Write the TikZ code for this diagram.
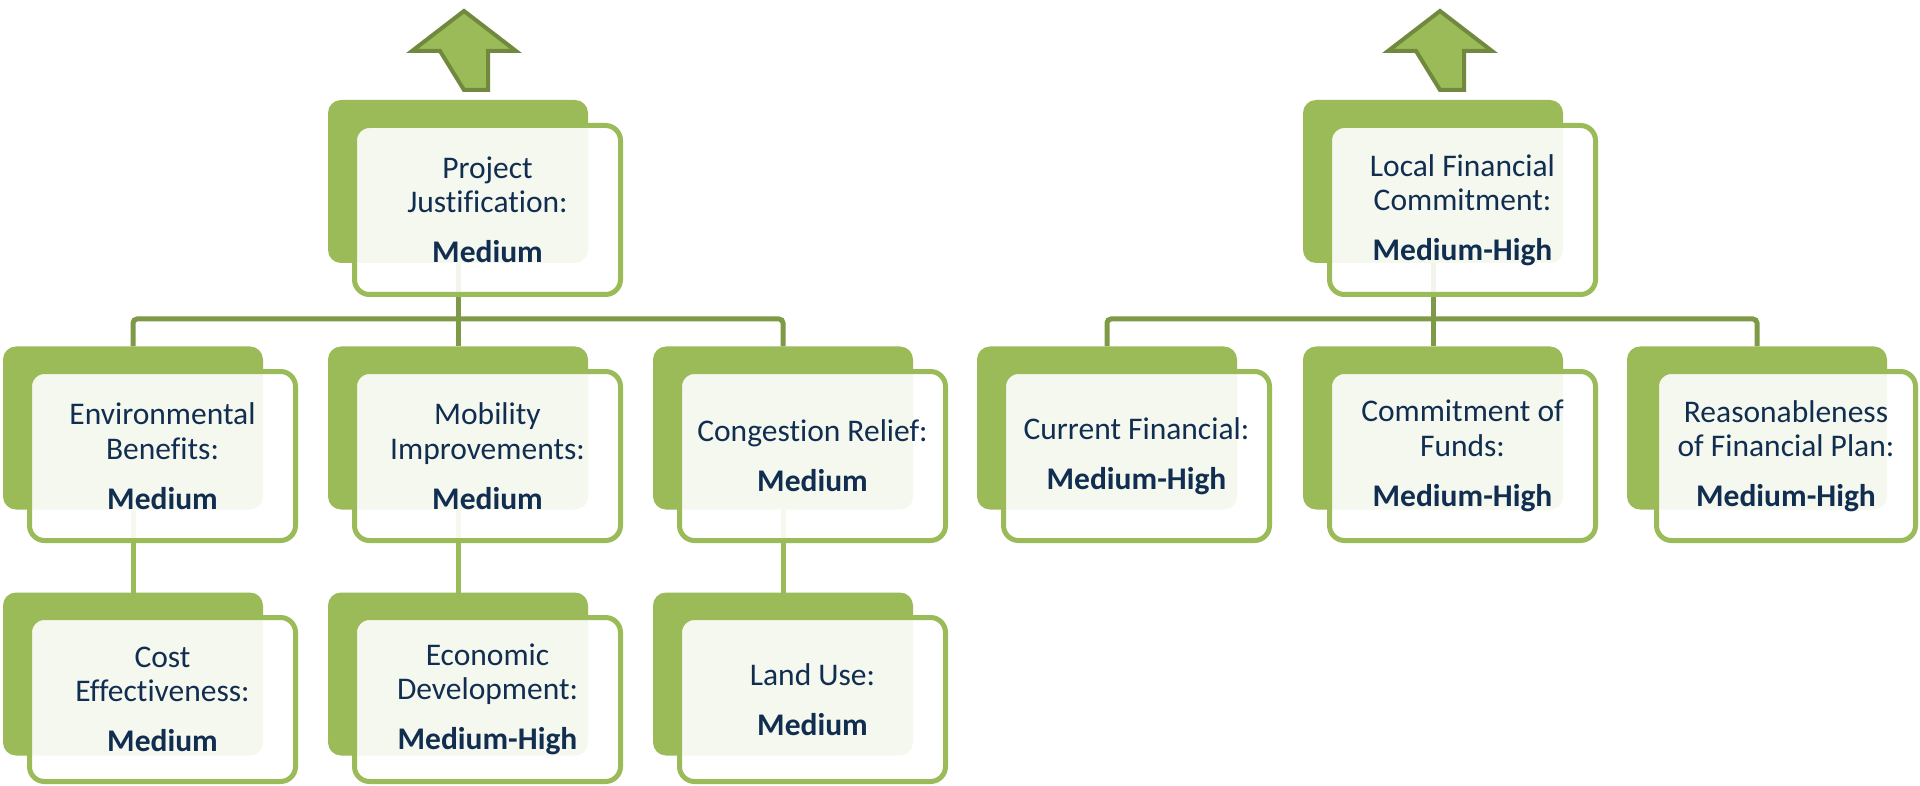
\documentclass[tikz,border=0pt]{standalone}
\usepackage{fontspec}
\setmainfont{Carlito}[Ligatures=NoCommon]
\usetikzlibrary{backgrounds}
\definecolor{boxgreen}{HTML}{9BBB59}
\definecolor{conngreen}{HTML}{7E9A47}
\definecolor{arrowgreen}{HTML}{71893F}
\definecolor{navy}{HTML}{112E51}
\newcommand\lblfont{\fontsize{31.5}{34.5}\selectfont}
\tikzset{
  backbox/.style={rectangle, rounded corners=13pt, fill=boxgreen, minimum width=260pt, minimum height=163pt, inner sep=0pt, outer sep=0pt},
  frontbox/.style={rectangle, rounded corners=15pt, draw=boxgreen, line width=5pt, fill=white, fill opacity=0.9, text opacity=1, minimum width=266pt, minimum height=169pt, inner sep=0pt, align=center, text=navy, font=\lblfont},
  lowfront/.style={frontbox, minimum height=164pt},
  hconn/.style={draw=conngreen, line width=5pt, rounded corners=4pt},
  vconn/.style={draw=boxgreen, line width=5pt},
  uparrow/.style={fill=boxgreen, draw=arrowgreen, line width=4pt, line join=miter},
}
\begin{document}
\begin{tikzpicture}[x=1pt,y=1pt]
\useasboundingbox (0,0) rectangle (1920,-786);

% back boxes
\node[backbox] (pjb) at (458,-181.5) {};
\node[backbox] (envb) at (133,-428) {};
\node[backbox] (mobb) at (458,-428) {};
\node[backbox] (conb) at (783,-428) {};
\node[backbox] (costb) at (133,-674) {};
\node[backbox] (ecob) at (458,-674) {};
\node[backbox] (landb) at (783,-674) {};
\node[backbox] (lfcb) at (1433,-181.5) {};
\node[backbox] (curb) at (1107,-428) {};
\node[backbox] (comb) at (1433,-428) {};
\node[backbox] (reab) at (1757,-428) {};

% junction coordinates
\coordinate (jL) at (458,-319);
\coordinate (jR) at (1433,-319);
\coordinate (aL) at (464,-90);
\coordinate (aR) at (1440,-90);

% connectors (behind boxes)
\begin{pgfonlayer}{background}
\fill[white] (0,0) rectangle (1920,-786);
\draw[hconn] (envb.north) |- (jL) -| (conb.north);
\draw[hconn] (pjb.south) -- (mobb.north);
\draw[hconn] (curb.north) |- (jR) -| (reab.north);
\draw[hconn] (lfcb.south) -- (comb.north);
\draw[vconn] (envb.south) -- (costb.north);
\draw[vconn] (mobb.south) -- (ecob.north);
\draw[vconn] (conb.south) -- (landb.north);
\end{pgfonlayer}

% front boxes with labels
\node[frontbox] (pjf) at (487.5,-210) {Project\\Justification:\\[15.5pt]\textbf{Medium}};
\node[frontbox] (envf) at (162.5,-456) {Environmental\\Benefits:\\[15.5pt]\textbf{Medium}};
\node[frontbox] (mobf) at (487.5,-456) {Mobility\\Improvements:\\[15.5pt]\textbf{Medium}};
\node[frontbox] (conf) at (812.5,-456) {Congestion Relief:\\[15.5pt]\textbf{Medium}};
\node[lowfront] (costf) at (162.5,-699.5) {Cost\\Effectiveness:\\[15.5pt]\textbf{Medium}};
\node[lowfront] (ecof) at (487.5,-699.5) {Economic\\Development:\\[15.5pt]\textbf{Medium-High}};
\node[lowfront] (landf) at (812.5,-699.5) {Land Use:\\[15.5pt]\textbf{Medium}};
\node[frontbox] (lfcf) at (1462.5,-210) {Local Financial\\Commitment:\\[15.5pt]\textbf{Medium-High}};
\node[frontbox] (curf) at (1136.5,-456) {Current Financial:\\[15.5pt]\textbf{Medium-High}};
\node[frontbox] (comf) at (1462.5,-456) {Commitment of\\Funds:\\[15.5pt]\textbf{Medium-High}};
\node[frontbox, minimum width=259pt] (reaf) at (1786,-456) {Reasonableness\\of Financial Plan:\\[15.5pt]\textbf{Medium-High}};

% up arrows
\foreach \a in {aL,aR}{
  \draw[uparrow] (\a) -- ++(24,0) -- ++(0,39) -- ++(28,0) -- ++(-52,40) -- ++(-52,-40) -- ++(28,0) -- cycle;
}
\end{tikzpicture}
\end{document}
